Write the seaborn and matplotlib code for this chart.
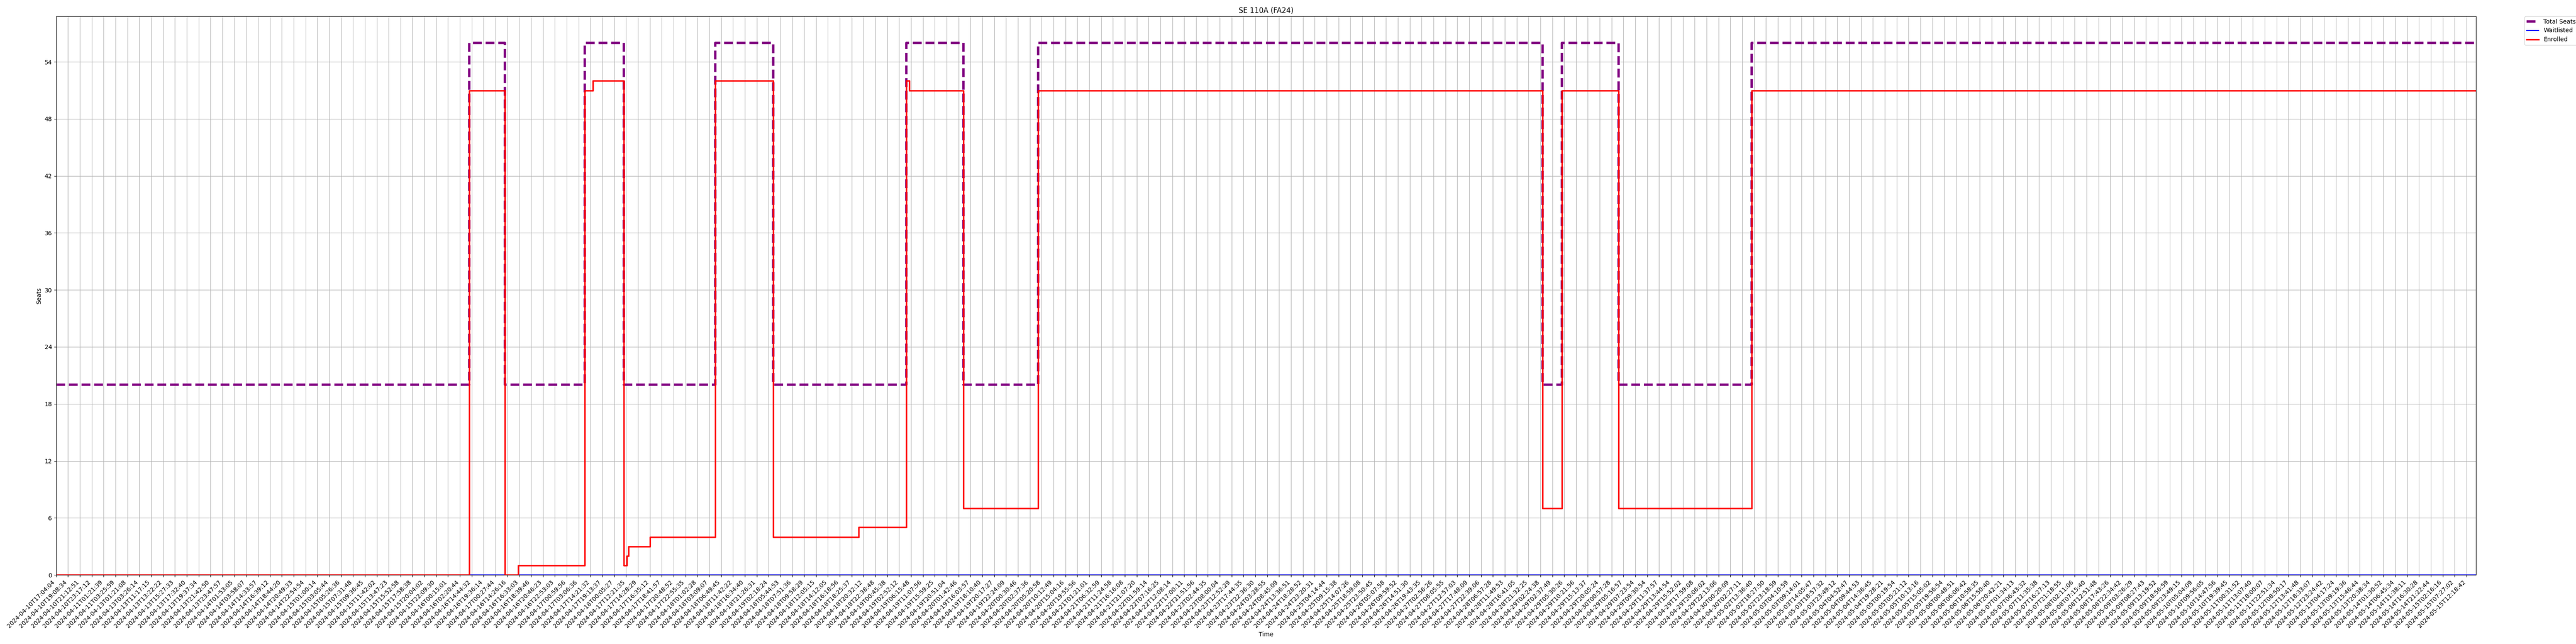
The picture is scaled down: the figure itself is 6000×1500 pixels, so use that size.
import matplotlib
matplotlib.use("Agg")
import matplotlib.pyplot as plt
import seaborn as sns

# tick labels, one per tick position 0..203
tick_labels = [
    "2024-04-10T17:04:04", "2024-04-10T19:08:34", "2024-04-10T21:12:51", "2024-04-10T23:17:12",
    "2024-04-11T01:21:39", "2024-04-11T03:25:59", "2024-04-13T01:21:08", "2024-04-13T03:26:14",
    "2024-04-13T11:17:15", "2024-04-13T13:22:22", "2024-04-13T15:27:33", "2024-04-13T17:32:40",
    "2024-04-13T19:37:34", "2024-04-13T21:42:50", "2024-04-13T23:47:57", "2024-04-14T01:53:05",
    "2024-04-14T03:58:07", "2024-04-14T14:33:57", "2024-04-14T16:39:12", "2024-04-14T18:44:20",
    "2024-04-14T20:49:33", "2024-04-14T22:54:54", "2024-04-15T01:00:14", "2024-04-15T03:05:44",
    "2024-04-15T05:26:36", "2024-04-15T07:31:48", "2024-04-15T09:36:45", "2024-04-15T11:42:02",
    "2024-04-15T13:47:23", "2024-04-15T15:52:58", "2024-04-15T17:58:38", "2024-04-15T20:04:02",
    "2024-04-15T22:09:30", "2024-04-16T00:15:01", "2024-04-16T02:20:44", "2024-04-16T14:44:32",
    "2024-04-16T19:36:14", "2024-04-17T00:27:44", "2024-04-16T14:26:16", "2024-04-16T16:33:03",
    "2024-04-16T18:39:46", "2024-04-16T20:46:23", "2024-04-16T22:53:03", "2024-04-17T00:59:56",
    "2024-04-17T03:06:36", "2024-04-17T14:21:32", "2024-04-17T19:13:37", "2024-04-18T00:05:27",
    "2024-04-17T12:21:35", "2024-04-17T14:28:29", "2024-04-17T16:35:12", "2024-04-17T18:41:57",
    "2024-04-17T20:48:52", "2024-04-17T22:55:35", "2024-04-18T01:02:28", "2024-04-18T03:09:07",
    "2024-04-18T06:49:45", "2024-04-18T11:42:22", "2024-04-18T16:34:40", "2024-04-18T21:26:31",
    "2024-04-19T02:18:24", "2024-04-18T05:44:53", "2024-04-18T07:51:36", "2024-04-18T09:58:29",
    "2024-04-18T12:05:15", "2024-04-18T14:12:05", "2024-04-18T16:18:56", "2024-04-18T18:25:37",
    "2024-04-18T20:32:12", "2024-04-18T22:38:48", "2024-04-19T00:45:38", "2024-04-19T02:52:12",
    "2024-04-19T06:15:48", "2024-04-19T11:07:56", "2024-04-19T15:59:25", "2024-04-19T20:51:04",
    "2024-04-20T01:42:46", "2024-04-19T16:03:57", "2024-04-19T18:10:40", "2024-04-19T20:17:27",
    "2024-04-19T22:24:09", "2024-04-20T00:30:46", "2024-04-20T02:37:36", "2024-04-20T05:20:58",
    "2024-04-20T10:12:49", "2024-04-20T15:04:16", "2024-04-20T19:55:56", "2024-04-21T01:21:01",
    "2024-04-21T06:32:59", "2024-04-21T11:24:58", "2024-04-21T16:16:08", "2024-04-21T21:07:20",
    "2024-04-22T01:59:14", "2024-04-22T07:16:25", "2024-04-22T12:08:14", "2024-04-22T17:00:11",
    "2024-04-22T21:51:56", "2024-04-23T02:44:35", "2024-04-23T08:00:04", "2024-04-23T12:52:29",
    "2024-04-23T17:44:35", "2024-04-23T22:36:30", "2024-04-24T03:28:55", "2024-04-24T08:45:09",
    "2024-04-24T13:36:51", "2024-04-24T18:28:52", "2024-04-24T23:20:31", "2024-04-25T04:14:44",
    "2024-04-25T09:15:38", "2024-04-25T14:07:26", "2024-04-25T18:59:08", "2024-04-25T23:50:45",
    "2024-04-26T05:07:58", "2024-04-26T09:59:52", "2024-04-26T14:51:30", "2024-04-26T19:43:35",
    "2024-04-27T02:56:26", "2024-04-27T08:05:55", "2024-04-27T12:57:03", "2024-04-27T17:48:09",
    "2024-04-27T22:39:06", "2024-04-28T06:57:28", "2024-04-28T11:49:53", "2024-04-28T16:41:05",
    "2024-04-28T21:32:25", "2024-04-29T02:24:38", "2024-04-29T02:37:49", "2024-04-29T05:30:26",
    "2024-04-29T10:21:56", "2024-04-29T15:13:37", "2024-04-29T20:05:24", "2024-04-30T00:57:28",
    "2024-04-29T05:16:57", "2024-04-29T07:23:54", "2024-04-29T09:30:54", "2024-04-29T11:37:57",
    "2024-04-29T13:44:54", "2024-04-29T15:52:02", "2024-04-29T17:59:08", "2024-04-29T20:06:02",
    "2024-04-29T22:13:06", "2024-04-30T00:20:09", "2024-04-30T02:27:11", "2024-05-02T13:36:40",
    "2024-05-02T18:27:50", "2024-05-02T23:18:59", "2024-05-03T04:10:59", "2024-05-03T09:14:01",
    "2024-05-03T14:05:47", "2024-05-03T18:57:32", "2024-05-03T23:49:12", "2024-05-04T04:52:47",
    "2024-05-04T09:44:53", "2024-05-04T14:36:45", "2024-05-04T19:28:21", "2024-05-05T00:19:54",
    "2024-05-05T05:21:12", "2024-05-05T10:13:16", "2024-05-05T15:05:02", "2024-05-05T19:56:54",
    "2024-05-06T00:48:51", "2024-05-06T06:06:42", "2024-05-06T10:58:35", "2024-05-06T15:50:40",
    "2024-05-06T20:42:21", "2024-05-07T01:34:13", "2024-05-07T06:43:32", "2024-05-07T11:35:38",
    "2024-05-07T16:27:13", "2024-05-07T21:18:55", "2024-05-08T02:11:06", "2024-05-08T07:15:40",
    "2024-05-08T12:51:48", "2024-05-08T17:43:26", "2024-05-08T22:34:42", "2024-05-09T03:26:29",
    "2024-05-09T08:27:43", "2024-05-09T13:19:52", "2024-05-09T18:56:59", "2024-05-09T23:49:15",
    "2024-05-10T05:04:09", "2024-05-10T09:56:05", "2024-05-10T14:47:56", "2024-05-10T19:39:45",
    "2024-05-11T00:31:52", "2024-05-11T13:07:40", "2024-05-11T18:00:07", "2024-05-11T22:51:34",
    "2024-05-12T08:50:17", "2024-05-12T13:41:48", "2024-05-12T18:33:07", "2024-05-12T23:24:42",
    "2024-05-13T04:17:24", "2024-05-13T09:19:36", "2024-05-13T15:46:44", "2024-05-13T20:38:34",
    "2024-05-14T01:30:52", "2024-05-14T06:45:34", "2024-05-14T11:38:11", "2024-05-14T16:30:28",
    "2024-05-14T21:22:44", "2024-05-15T02:16:16", "2024-05-15T07:27:02", "2024-05-15T12:18:42",
]

# change points (in tick positions) and the value that holds from each one on
total_t = [0, 34.8, 37.8, 44.5, 47.8, 55.5, 60.4, 71.6, 76.4, 82.7, 125.2, 126.8, 131.6, 142.8, 203.8]
total_seats = [20, 56, 20, 56, 20, 56, 20, 56, 20, 56, 20, 56, 20, 56, 56]

enrolled_t = [0, 34.8, 37.8, 38.9, 44.5, 45.2, 47.8, 48.05, 48.2, 50.0, 55.5, 60.4, 67.6,
              71.6, 71.85, 76.4, 82.7, 125.2, 126.8, 131.6, 142.8, 203.8]
enrolled = [0, 51, 0, 1, 51, 52, 1, 2, 3, 4, 52, 4, 5,
            52, 51, 7, 51, 7, 51, 7, 51, 51]

waitlist_t = [0, 203.8]
waitlisted = [0, 0]

fig = plt.figure(figsize=(60, 15), dpi=100)
ax = fig.add_axes([0.0218, 0.1073, 0.9394, 0.8674])

sns.lineplot(x=total_t, y=total_seats, ax=ax, color='purple', linestyle='--', linewidth=4,
             drawstyle='steps-post', label='Total Seats', errorbar=None, sort=False)
sns.lineplot(x=waitlist_t, y=waitlisted, ax=ax, color='blue', linewidth=1.5,
             drawstyle='steps-post', label='Waitlisted', errorbar=None, sort=False)
sns.lineplot(x=enrolled_t, y=enrolled, ax=ax, color='red', linewidth=2.5,
             drawstyle='steps-post', label='Enrolled', errorbar=None, sort=False)

ax.set_xticks(range(len(tick_labels)))
ax.set_xticklabels(tick_labels, rotation=45, ha='right')
ax.set_xlim(0, 203.8)
ax.set_yticks(range(0, 55, 6))
ax.set_ylim(0, 58.8)
ax.grid(True)
ax.set_title('SE 110A (FA24)')
ax.set_xlabel('Time')
ax.set_ylabel('Seats')
ax.legend(bbox_to_anchor=(1.02, 1), loc='upper left', borderaxespad=0)

fig.savefig('out.png', dpi=100)
